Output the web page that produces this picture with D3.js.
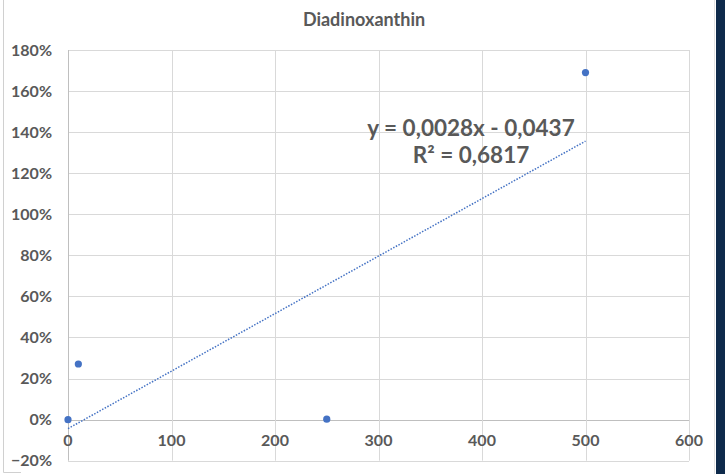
<!DOCTYPE html>
<html>
<head>
<meta charset="utf-8">
<script src="https://cdn.jsdelivr.net/npm/d3@7"></script>
<style>
  html, body { margin: 0; padding: 0; background: #ffffff; }
  svg { display: block; }
</style>
</head>
<body>
<svg id="chart" width="725" height="474"></svg>
<script>
// Concentration (x) and relative change (y) for Diadinoxanthin
const xValues = [0, 10, 250, 500];
const yValues = [0, 0.271, 0.002, 1.69];

// Linear trendline coefficients shown in the label
const trendSlope = 0.0028;
const trendIntercept = -0.0437;
const trendR2 = 0.6817;

const xTicks = [0, 100, 200, 300, 400, 500, 600];
const yTicks = [-0.2, 0, 0.2, 0.4, 0.6, 0.8, 1.0, 1.2, 1.4, 1.6, 1.8];

const titleText = "Diadinoxanthin";

const svg = d3.select("#chart");
const W = 725, H = 474;
const font = "Lato, 'Open Sans', sans-serif";
const textColor = "#595959";
const gridColor = "#d9d9d9";
const markColor = "#4472C4";

// Chart area frame and dark side band
svg.append("rect").attr("x", 0).attr("y", 0).attr("width", W).attr("height", H).attr("fill", "#ffffff");
svg.append("rect").attr("x", 716).attr("y", 0).attr("width", 9).attr("height", H).attr("fill", "#0e2a4b");
svg.append("line").attr("x1", 714.5).attr("x2", 714.5).attr("y1", 0).attr("y2", H)
  .attr("stroke", "#e3e3e3").attr("stroke-width", 1);
svg.append("path").attr("d", "M3.5,0 V472.5 H21")
  .attr("fill", "none").attr("stroke", "#d0d0d0").attr("stroke-width", 1);

const x = d3.scaleLinear().domain([0, 600]).range([68, 689]);
const y = d3.scaleLinear().domain([-0.2, 1.8]).range([460.7, 50]);

// Gridlines
const g = svg.append("g");
g.selectAll("line.h").data(yTicks).join("line")
  .attr("class", "h")
  .attr("x1", x(0)).attr("x2", x(600))
  .attr("y1", d => Math.round(y(d)) + 0.5).attr("y2", d => Math.round(y(d)) + 0.5)
  .attr("stroke", d => Math.abs(d) < 1e-9 ? "#bfbfbf" : gridColor)
  .attr("stroke-width", 1);
g.selectAll("line.v").data(xTicks).join("line")
  .attr("class", "v")
  .attr("y1", y(1.8)).attr("y2", y(-0.2))
  .attr("x1", d => Math.round(x(d)) + 0.5).attr("x2", d => Math.round(x(d)) + 0.5)
  .attr("stroke", d => d === 0 ? "#bfbfbf" : gridColor)
  .attr("stroke-width", 1);

// Y axis tick labels
const pct = d3.format(".0%");
svg.append("g").selectAll("text").data(yTicks).join("text")
  .attr("x", 52).attr("y", d => y(d))
  .attr("dy", "0.35em")
  .attr("text-anchor", "end")
  .attr("font-family", font).attr("font-weight", "bold").attr("font-size", 16)
  .attr("fill", textColor)
  .text(d => pct(d));

// X axis tick labels, placed under the zero line
svg.append("g").selectAll("text").data(xTicks).join("text")
  .attr("x", d => x(d)).attr("y", y(0) + 21)
  .attr("dy", "0.35em")
  .attr("text-anchor", "middle")
  .attr("font-family", font).attr("font-weight", "bold").attr("font-size", 16)
  .attr("fill", textColor)
  .text(d => d);

// Title
svg.append("text")
  .attr("x", 364).attr("y", 20).attr("dy", "0.35em")
  .attr("text-anchor", "middle")
  .attr("font-family", font).attr("font-weight", "bold").attr("font-size", 18)
  .attr("fill", textColor)
  .text(titleText);

// Linear trendline across the data range
const x0 = d3.min(xValues), x1 = d3.max(xValues);
svg.append("line")
  .attr("x1", x(x0)).attr("y1", y(trendSlope * x0 + trendIntercept))
  .attr("x2", x(x1)).attr("y2", y(trendSlope * x1 + trendIntercept))
  .attr("stroke", markColor).attr("stroke-width", 1.5)
  .attr("stroke-dasharray", "1.5,1.5");

// Data points
const pts = xValues.map((v, i) => ({ x: v, y: yValues[i] }));
svg.append("g").selectAll("circle").data(pts).join("circle")
  .attr("cx", d => x(d.x)).attr("cy", d => y(d.y))
  .attr("r", 3.6)
  .attr("fill", markColor);

// Trendline equation and R²
const dec = v => d3.format(".4f")(Math.abs(v)).replace(".", ",");
const eqText = "y = " + dec(trendSlope) + "x " + (trendIntercept < 0 ? "- " : "+ ") + dec(trendIntercept);
const lbl = svg.append("g").attr("font-family", font).attr("font-weight", "bold")
  .attr("font-size", 22.5).attr("fill", textColor).attr("text-anchor", "middle");
lbl.append("text").attr("x", 471).attr("y", 128).attr("dy", "0.35em").text(eqText);
lbl.append("text").attr("x", 471).attr("y", 155).attr("dy", "0.35em").text("R² = " + dec(trendR2));
</script>
</body>
</html>
